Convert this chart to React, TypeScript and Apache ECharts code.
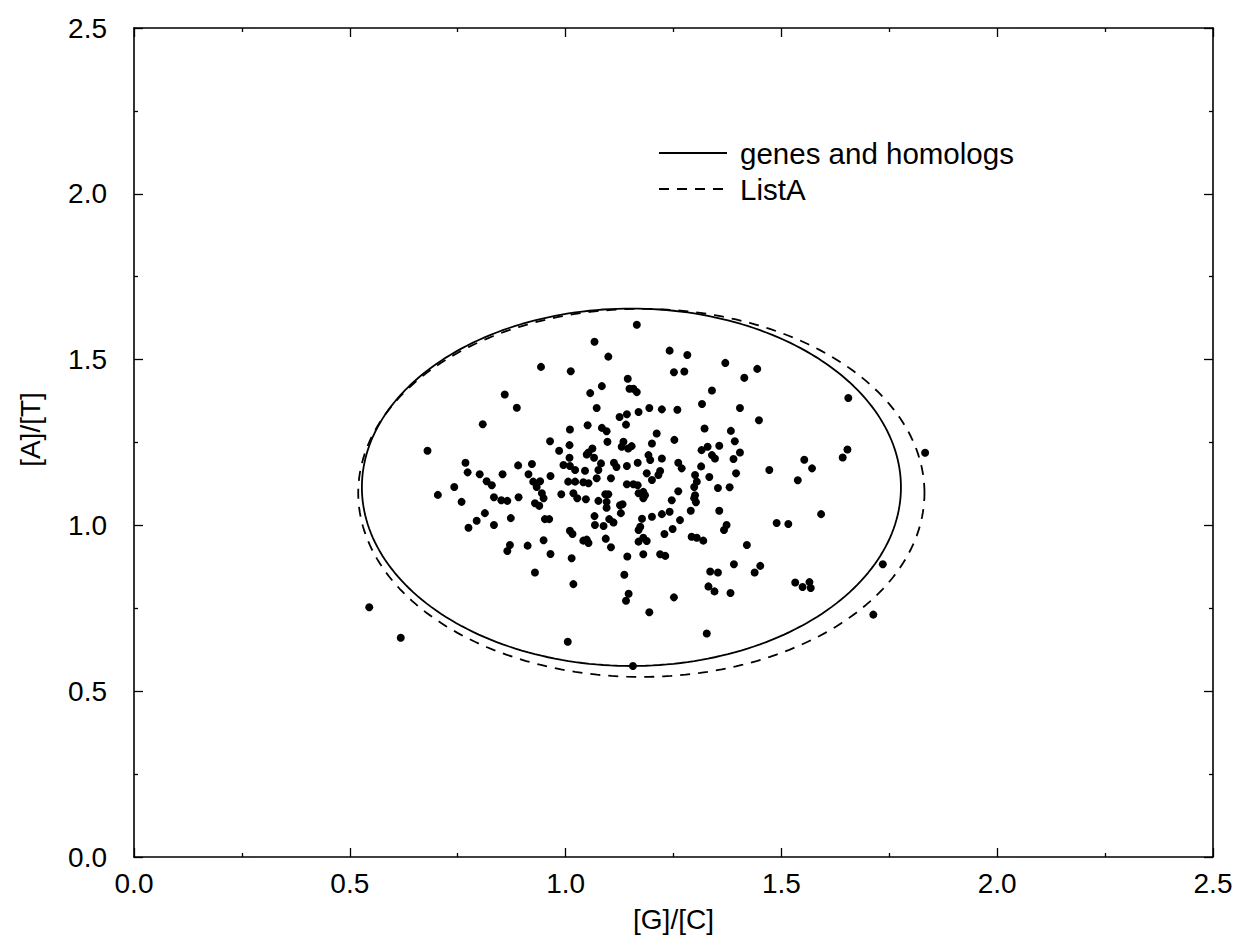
import React, { useEffect, useRef } from "react";
import * as echarts from "echarts";

// [G]/[C] values of the points
const gcRatio = [
  1.165, 1.067, 1.099, 0.943, 1.012, 1.144, 1.084, 1.148, 1.157, 1.165,
  1.057, 0.859, 0.887, 1.072, 1.169, 1.125, 1.142, 0.808, 1.051, 1.140,
  1.010, 1.084, 1.095, 0.964, 1.009, 1.097, 1.134, 1.130, 1.145, 1.153,
  0.680, 1.062, 1.053, 1.049, 0.985, 1.009, 1.066, 0.768, 0.773, 0.890,
  0.922, 0.995, 1.010, 1.022, 1.082, 1.076, 1.072, 1.112, 1.118, 1.142,
  1.167, 1.045, 0.801, 0.854, 0.914, 0.965, 0.817, 0.829, 0.742, 0.925,
  0.941, 0.933, 1.006, 1.022, 1.041, 1.053, 1.105, 1.142, 1.157, 1.167,
  0.704, 0.834, 0.851, 0.865, 0.891, 0.759, 0.929, 0.939, 0.945, 0.949,
  0.990, 1.018, 1.027, 1.047, 1.076, 1.092, 1.099, 1.095, 1.095, 1.126,
  1.132, 1.128, 0.813, 0.794, 0.775, 0.834, 0.873, 0.952, 0.962, 1.067,
  1.101, 1.111, 1.068, 1.088, 1.010, 1.016, 1.041, 1.053, 1.049, 0.949,
  0.912, 0.871, 0.865, 0.965, 1.014, 1.093, 1.105, 1.143, 1.169, 1.169,
  0.929, 1.136, 1.018, 1.146, 1.140, 0.545, 0.618, 1.005, 1.156, 1.169,
  1.241, 1.282, 1.370, 1.444, 1.251, 1.275, 1.414, 1.339, 1.655, 1.316,
  1.404, 1.194, 1.223, 1.259, 1.448, 1.322, 1.383, 1.211, 1.200, 1.252,
  1.392, 1.356, 1.315, 1.329, 1.404, 1.653, 1.642, 1.553, 1.571, 1.192,
  1.196, 1.223, 1.339, 1.346, 1.389, 1.261, 1.269, 1.314, 1.472, 1.395,
  1.333, 1.538, 1.188, 1.200, 1.215, 1.219, 1.300, 1.304, 1.180, 1.261,
  1.298, 1.300, 1.353, 1.380, 1.180, 1.184, 1.246, 1.298, 1.302, 1.356,
  1.241, 1.223, 1.200, 1.290, 1.177, 1.592, 1.489, 1.516, 1.265, 1.373,
  1.367, 1.173, 1.248, 1.229, 1.180, 1.188, 1.292, 1.304, 1.319, 1.420,
  1.180, 1.219, 1.231, 1.390, 1.451, 1.438, 1.335, 1.353, 1.532, 1.549,
  1.565, 1.568, 1.331, 1.345, 1.382, 1.251, 1.194, 1.735, 1.713, 1.327,
  1.833,
];

// [A]/[T] values of the points
const atRatio = [
  1.605, 1.554, 1.509, 1.478, 1.465, 1.442, 1.420, 1.412, 1.412, 1.402,
  1.399, 1.395, 1.355, 1.354, 1.342, 1.327, 1.335, 1.305, 1.302, 1.304,
  1.289, 1.294, 1.284, 1.254, 1.242, 1.252, 1.252, 1.237, 1.232, 1.239,
  1.225, 1.232, 1.220, 1.214, 1.225, 1.204, 1.204, 1.189, 1.160, 1.181,
  1.185, 1.182, 1.179, 1.167, 1.187, 1.167, 1.142, 1.189, 1.176, 1.179,
  1.189, 1.165, 1.154, 1.154, 1.154, 1.149, 1.133, 1.121, 1.116, 1.132,
  1.133, 1.116, 1.132, 1.132, 1.130, 1.127, 1.142, 1.124, 1.124, 1.121,
  1.092, 1.085, 1.076, 1.074, 1.085, 1.071, 1.067, 1.059, 1.097, 1.082,
  1.094, 1.097, 1.082, 1.079, 1.074, 1.094, 1.094, 1.071, 1.053, 1.061,
  1.064, 1.037, 1.037, 1.014, 0.993, 1.001, 1.022, 1.019, 1.019, 1.028,
  1.019, 1.009, 1.001, 0.998, 0.984, 0.974, 0.954, 0.947, 0.957, 0.955,
  0.939, 0.941, 0.923, 0.914, 0.901, 0.960, 0.934, 0.906, 0.986, 0.951,
  0.858, 0.851, 0.823, 0.794, 0.773, 0.753, 0.661, 0.649, 0.576, 1.097,
  1.527, 1.514, 1.490, 1.472, 1.462, 1.464, 1.445, 1.407, 1.384, 1.366,
  1.354, 1.354, 1.350, 1.349, 1.317, 1.292, 1.285, 1.277, 1.247, 1.258,
  1.254, 1.240, 1.227, 1.237, 1.220, 1.229, 1.205, 1.198, 1.172, 1.212,
  1.197, 1.202, 1.212, 1.202, 1.200, 1.189, 1.172, 1.178, 1.167, 1.157,
  1.146, 1.136, 1.157, 1.137, 1.152, 1.164, 1.152, 1.132, 1.101, 1.103,
  1.116, 1.091, 1.113, 1.115, 1.082, 1.091, 1.076, 1.082, 1.070, 1.044,
  1.041, 1.034, 1.026, 1.044, 1.020, 1.034, 1.007, 1.004, 1.016, 1.001,
  0.986, 0.996, 0.989, 0.974, 0.963, 0.953, 0.966, 0.963, 0.954, 0.941,
  0.913, 0.913, 0.908, 0.883, 0.878, 0.858, 0.861, 0.858, 0.828, 0.814,
  0.829, 0.811, 0.816, 0.801, 0.796, 0.783, 0.738, 0.883, 0.731, 0.674,
  1.219,
];

// ellipses: [genes and homologs, ListA]
const seriesNames = ["genes and homologs", "ListA"];
const ellipseCenterX = [1.1525, 1.1755];
const ellipseCenterY = [1.115, 1.098];
const ellipseRadiusX = [0.6245, 0.656];
const ellipseRadiusY = [0.539, 0.555];

const axisMin = 0;
const axisMax = 2.5;
const axisInterval = 0.5;

function ellipseCurve(i: number): number[][] {
  const pts: number[][] = [];
  const n = 240;
  for (let k = 0; k <= n; k++) {
    const t = (k / n) * Math.PI * 2;
    pts.push([
      ellipseCenterX[i] + ellipseRadiusX[i] * Math.cos(t),
      ellipseCenterY[i] + ellipseRadiusY[i] * Math.sin(t),
    ]);
  }
  return pts;
}

const FONT = "'Liberation Sans', Arial, Helvetica, sans-serif";

export default function App() {
  const ref = useRef<HTMLDivElement>(null);
  useEffect(() => {
    if (!ref.current) return;
    const chart = echarts.init(ref.current, undefined, { renderer: "svg" });
    const black = "#000";
    const baseAxis = (showLabel: boolean) => ({
      type: "value" as const,
      min: axisMin,
      max: axisMax,
      interval: axisInterval,
      axisLine: { show: true, onZero: false, lineStyle: { color: black, width: 1.6 } },
      axisTick: { show: true, inside: true, length: 9, lineStyle: { color: black, width: 1.3 } },
      minorTick: { show: true, splitNumber: 2, length: 4, lineStyle: { color: black, width: 1.3 } },
      splitLine: { show: false },
      minorSplitLine: { show: false },
      axisLabel: {
        show: showLabel,
        color: black,
        fontSize: 28,
        fontFamily: FONT,
        formatter: (v: number) => v.toFixed(1),
      },
    });
    const points = gcRatio.map((x, i) => [x, atRatio[i]]);
    chart.setOption({
      animation: false,
      backgroundColor: "#fff",
      grid: { left: 134, right: 23, top: 28, bottom: 78, containLabel: false },
      legend: {
        data: seriesNames,
        orient: "vertical",
        left: 653,
        top: 133,
        itemWidth: 68,
        itemHeight: 14,
        itemGap: 6,
        selectedMode: false,
        itemStyle: { opacity: 0 },
        textStyle: { color: black, fontSize: 29.5, fontFamily: FONT, padding: [0, 0, 0, 8] },
      },
      xAxis: [
        {
          ...baseAxis(true),
          position: "bottom",
          axisLabel: { ...baseAxis(true).axisLabel, margin: 12 },
          name: "[G]/[C]",
          nameLocation: "middle",
          nameGap: 48,
          nameTextStyle: { color: black, fontSize: 28, fontFamily: FONT },
        },
        { ...baseAxis(false), position: "top" },
      ],
      yAxis: [
        {
          ...baseAxis(true),
          position: "left",
          axisLabel: { ...baseAxis(true).axisLabel, margin: 27 },
          name: "[A]/[T]",
          nameLocation: "middle",
          nameGap: 90,
          nameTextStyle: { color: black, fontSize: 28, fontFamily: FONT, padding: [0, 0, 0, 26] },
        },
        { ...baseAxis(false), position: "right" },
      ],
      series: [
        {
          name: seriesNames[0],
          type: "line",
          data: ellipseCurve(0),
          showSymbol: false,
          symbol: "none",
          smooth: false,
          silent: true,
          lineStyle: { color: black, width: 1.8, type: "solid" },
          itemStyle: { color: black },
          z: 2,
        },
        {
          name: seriesNames[1],
          type: "line",
          data: ellipseCurve(1),
          showSymbol: false,
          symbol: "none",
          smooth: false,
          silent: true,
          lineStyle: { color: black, width: 1.8, type: [10, 8] },
          itemStyle: { color: black },
          z: 2,
        },
        {
          name: "points",
          type: "scatter",
          data: points,
          symbol: "circle",
          symbolSize: 8,
          silent: true,
          itemStyle: { color: black, opacity: 1 },
          z: 3,
        },
      ],
    });
    return () => chart.dispose();
  }, []);
  return (
    <div
      ref={ref}
      style={{ position: "absolute", left: 0, top: 0, width: 1236, height: 938, background: "#fff" }}
    />
  );
}
